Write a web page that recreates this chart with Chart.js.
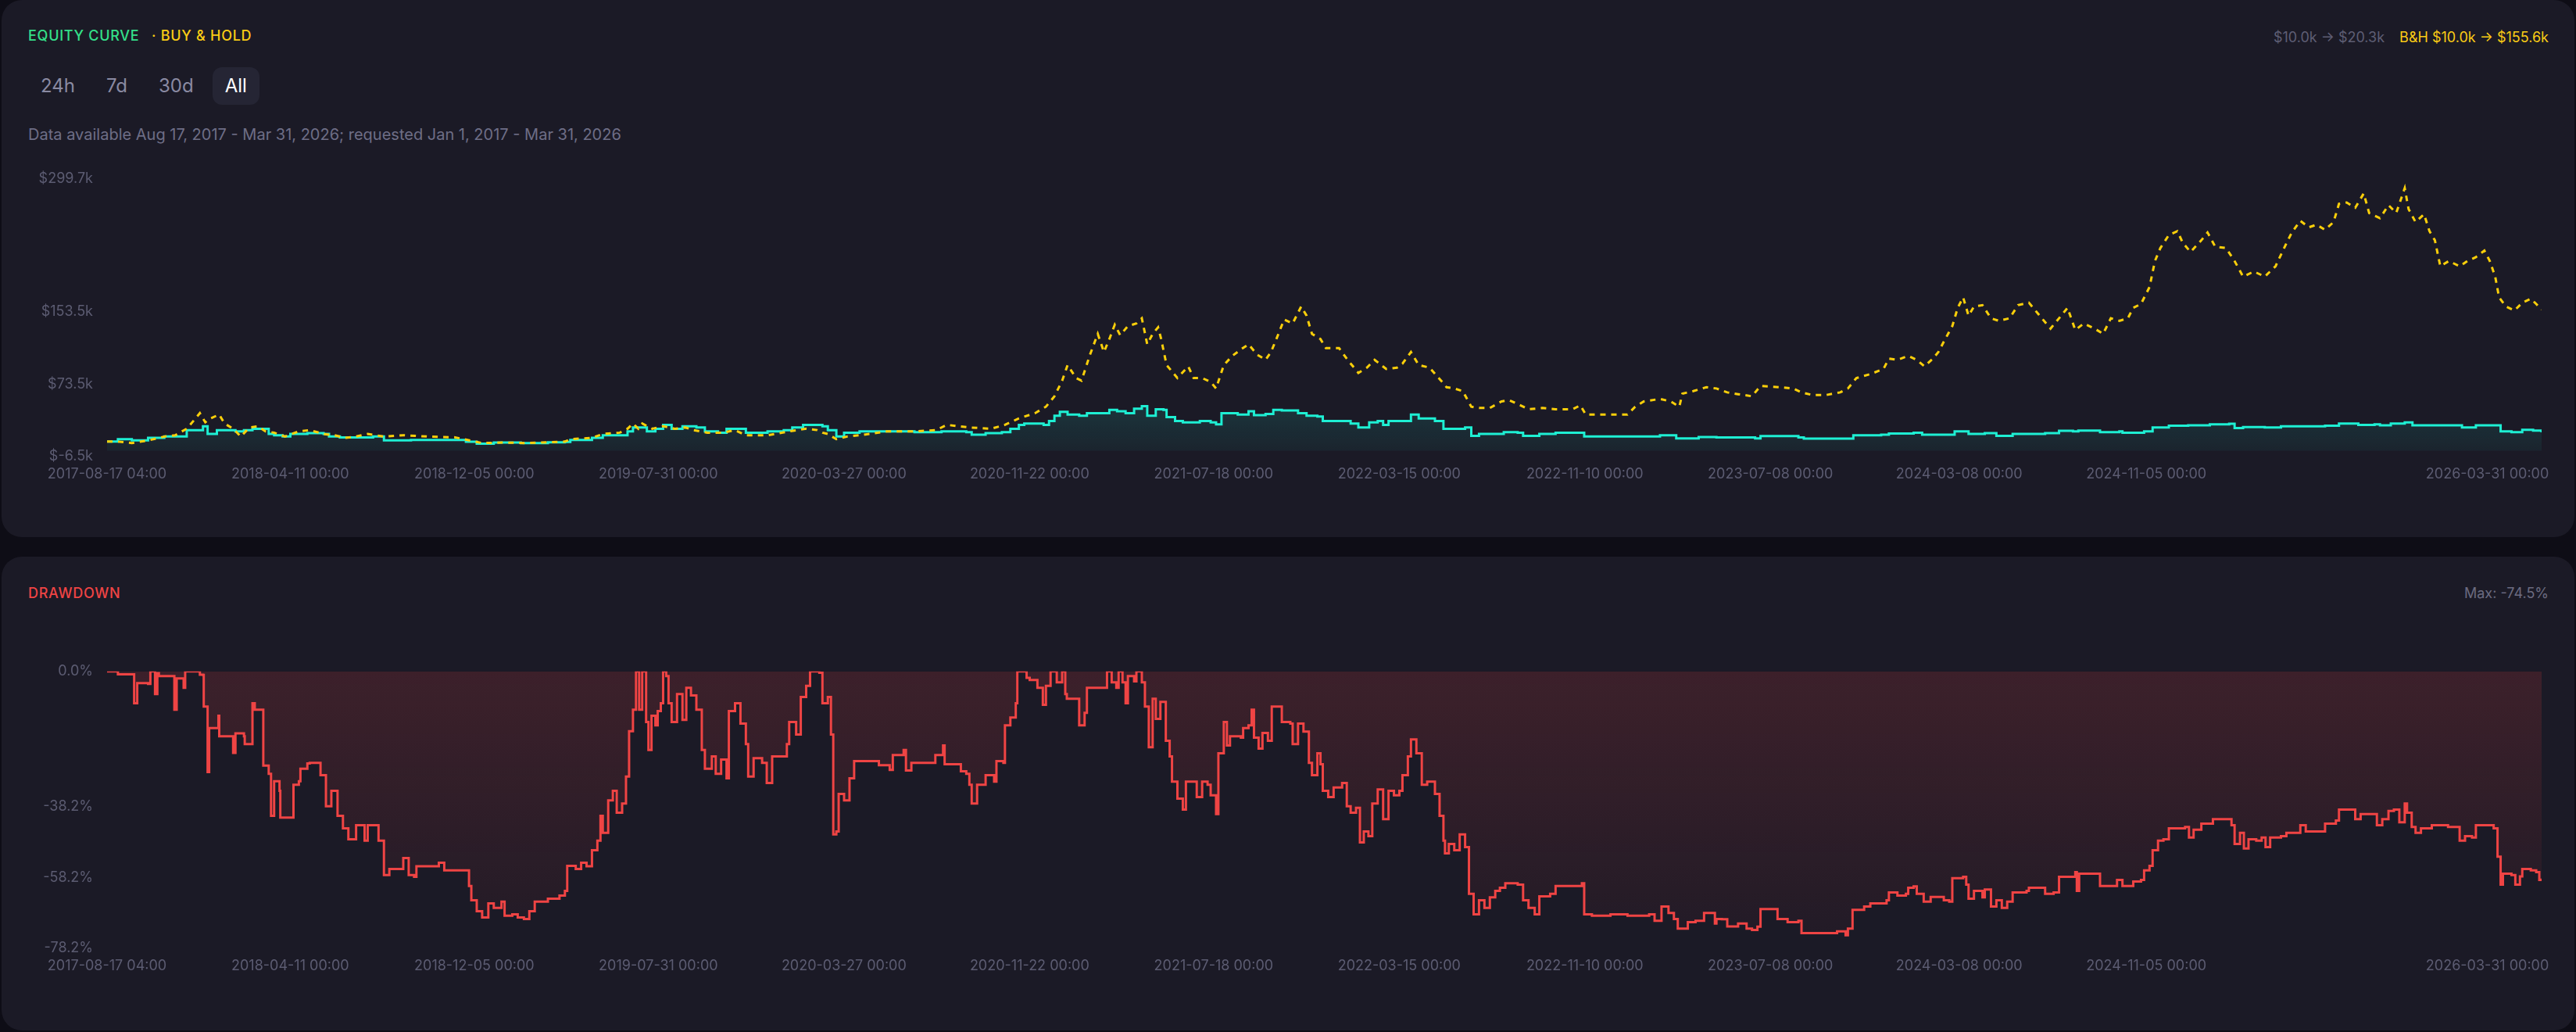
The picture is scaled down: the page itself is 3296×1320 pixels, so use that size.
<!DOCTYPE html>
<html lang="en">
<head>
<meta charset="utf-8">
<title>Equity curve</title>
<script src="https://cdn.jsdelivr.net/npm/chart.js@4.4.1/dist/chart.umd.min.js"></script>
<style>
  html, body { margin: 0; padding: 0; }
  body {
    width: 3296px; height: 1320px; position: relative; overflow: hidden;
    background: #0e0d16; font-family: Inter, "Noto Sans", sans-serif;
  }
  .card { position: absolute; left: 2px; width: 3292px; background: #1b1a26; border-radius: 26px; }
  .txt { position: absolute; font-size: 18px; line-height: 22px; white-space: nowrap; }
  .caps { font-weight: 500; letter-spacing: 0.04em; }
  .btns { position: absolute; left: 36px; top: 86px; display: flex; gap: 8px; }
  .btn { height: 48px; line-height: 48px; padding: 0 16px; font-size: 24px; color: #8a8aa2; border-radius: 12px; }
  .btn.on { background: #252534; color: #ffffff; }
  canvas { position: absolute; left: 20px; }
</style>
</head>
<body>
<div class="card" style="top:0; height:687px;"></div>
<div class="card" style="top:712px; height:606px;"></div>

<div class="txt caps" style="left:36px; top:35px;">
  <span style="color:#34e08a;">EQUITY CURVE</span>
  <span style="color:#facc15; margin-left:10px;">· BUY &amp; HOLD</span>
</div>
<div class="txt" style="right:35px; top:37px;">
  <span style="color:#5e5e74;">$10.0k → $20.3k</span>
  <span style="color:#facc15; margin-left:14px;">B&amp;H $10.0k → $155.6k</span>
</div>
<div class="btns">
  <div class="btn">24h</div><div class="btn">7d</div><div class="btn">30d</div><div class="btn on">All</div>
</div>
<div class="txt" style="left:36px; top:161px; font-size:20px; color:#6e6e86;">
  Data available Aug 17, 2017 - Mar 31, 2026; requested Jan 1, 2017 - Mar 31, 2026
</div>
<canvas id="equity" width="3260" height="424" style="top:200px;"></canvas>

<div class="txt caps" style="left:36px; top:748px; color:#ef4444;">DRAWDOWN</div>
<div class="txt" style="right:35px; top:748px; color:#6b6b80;">Max: -74.5%</div>
<canvas id="drawdown" width="3260" height="423" style="top:830px;"></canvas>

<script>
// days since 2017-08-17 04:00 for every point, values in $k and %
const eqDays = [
  0, 14, 32, 53, 74, 88, 103, 120, 124, 130,
  142, 166, 177, 188, 198, 209, 216, 227, 237, 259,
  280, 287, 301, 322, 344, 358, 393, 429, 457, 464,
  478, 500, 535, 570, 592, 599, 627, 641, 663, 673,
  680, 691, 698, 709, 719, 730, 744, 762, 773, 790,
  801, 812, 826, 854, 875, 886, 900, 918, 925, 932,
  943, 953, 973, 1016, 1044, 1079, 1111, 1118, 1136, 1157,
  1168, 1179, 1186, 1211, 1218, 1225, 1232, 1242, 1257, 1267,
  1292, 1296, 1306, 1317, 1328, 1338, 1345, 1356, 1366, 1370,
  1381, 1391, 1413, 1427, 1434, 1441, 1462, 1476, 1483, 1498,
  1508, 1519, 1540, 1551, 1565, 1572, 1597, 1608, 1618, 1632,
  1643, 1650, 1657, 1671, 1686, 1696, 1717, 1728, 1756, 1764,
  1774, 1795, 1806, 1824, 1831, 1852, 1873, 1905, 1910, 1994,
  2008, 2029, 2058, 2081, 2131, 2138, 2187, 2194, 2248, 2258,
  2294, 2304, 2336, 2347, 2382, 2389, 2400, 2407, 2428, 2443,
  2464, 2506, 2524, 2542, 2549, 2577, 2602, 2606, 2634, 2645,
  2666, 2691, 2719, 2744, 2751, 2762, 2790, 2811, 2868, 2886,
  2903, 2911, 2932, 2939, 2953, 2971, 2981, 3038, 3045, 3063,
  3084, 3095, 3109, 3123, 3137, 3148
];
const eqValues = [
  10.0, 12.7, 11.3, 14.1, 15.6, 15.6, 22.7, 22.7, 27.0, 18.4,
  22.7, 21.3, 22.7, 24.2, 24.2, 18.4, 17.0, 15.6, 18.4, 19.3,
  18.4, 15.6, 14.7, 14.7, 15.6, 11.3, 11.8, 11.8, 11.8, 9.8,
  7.8, 9.0, 8.4, 9.3, 9.6, 11.8, 14.1, 17.0, 17.0, 21.3,
  25.6, 25.6, 21.3, 24.2, 28.5, 24.2, 27.0, 25.6, 21.3, 19.9,
  24.2, 24.2, 19.9, 21.3, 22.7, 25.6, 28.5, 28.5, 27.0, 22.7,
  15.6, 19.9, 21.3, 21.3, 20.5, 21.3, 20.5, 17.6, 19.3, 20.5,
  24.2, 28.5, 29.9, 28.5, 32.8, 38.5, 42.8, 39.9, 38.5, 41.4,
  41.4, 45.1, 43.4, 41.4, 46.3, 49.1, 38.5, 45.7, 45.1, 37.1,
  32.8, 31.3, 32.8, 31.3, 29.1, 41.4, 39.9, 43.4, 39.1, 40.5,
  45.1, 44.3, 41.4, 38.5, 37.7, 32.8, 32.8, 29.9, 25.6, 31.3,
  32.8, 28.5, 32.8, 32.8, 39.9, 35.6, 32.8, 24.2, 25.6, 16.4,
  18.4, 18.4, 20.5, 19.9, 16.4, 18.4, 19.9, 19.9, 15.6, 15.6,
  17.0, 13.6, 15.0, 14.7, 13.6, 16.1, 14.7, 13.3, 13.3, 17.0,
  17.6, 19.0, 19.9, 17.6, 17.6, 21.3, 21.3, 18.4, 19.3, 16.4,
  18.4, 19.3, 21.9, 21.3, 22.2, 20.5, 21.3, 19.9, 21.3, 25.6,
  27.6, 27.9, 29.1, 29.6, 25.0, 26.1, 25.6, 27.0, 27.6, 29.9,
  29.9, 28.5, 29.1, 27.9, 29.9, 31.3, 27.9, 27.9, 25.6, 27.9,
  27.9, 21.3, 20.5, 23.0, 22.2, 20.3
];

const bhDays = [
  0, 14, 32, 53, 74, 88, 103, 113, 120, 127,
  134, 145, 152, 163, 173, 184, 195, 205, 216, 230,
  248, 262, 280, 294, 308, 322, 337, 358, 383, 414,
  450, 461, 485, 514, 542, 570, 592, 599, 627, 641,
  663, 673, 680, 687, 692, 705, 719, 734, 748, 758,
  776, 797, 812, 826, 854, 882, 904, 918, 925, 932,
  943, 957, 973, 1008, 1044, 1072, 1086, 1115, 1143, 1161,
  1179, 1200, 1214, 1225, 1235, 1242, 1253, 1260, 1271, 1281,
  1289, 1296, 1303, 1310, 1320, 1331, 1338, 1345, 1352, 1359,
  1363, 1370, 1377, 1384, 1398, 1405, 1416, 1427, 1434, 1444,
  1455, 1466, 1476, 1487, 1498, 1505, 1512, 1522, 1533, 1544,
  1551, 1558, 1569, 1576, 1593, 1604, 1618, 1629, 1639, 1654,
  1668, 1675, 1686, 1696, 1710, 1725, 1732, 1742, 1753, 1764,
  1774, 1788, 1803, 1813, 1824, 1838, 1856, 1873, 1895, 1905,
  1912, 1937, 1966, 1976, 1987, 2008, 2022, 2033, 2037, 2051,
  2068, 2081, 2095, 2109, 2127, 2138, 2163, 2180, 2191, 2205,
  2223, 2241, 2251, 2262, 2280, 2297, 2304, 2315, 2329, 2340,
  2350, 2361, 2368, 2375, 2386, 2393, 2400, 2407, 2414, 2425,
  2436, 2446, 2460, 2471, 2485, 2499, 2513, 2524, 2535, 2545,
  2556, 2570, 2581, 2591, 2602, 2613, 2620, 2630, 2641, 2648,
  2655, 2666, 2677, 2684, 2694, 2708, 2716, 2726, 2740, 2751,
  2762, 2776, 2790, 2804, 2815, 2825, 2836, 2847, 2857, 2868,
  2879, 2886, 2896, 2907, 2918, 2925, 2939, 2950, 2960, 2971,
  2976, 2985, 2996, 3003, 3010, 3017, 3028, 3042, 3052, 3063,
  3074, 3081, 3088, 3093, 3102, 3113, 3123, 3134, 3141, 3148
];
const bhValues = [
  10.0, 10.0, 8.4, 11.3, 15.6, 17.0, 24.2, 34.2, 41.4, 31.3,
  35.6, 39.9, 29.9, 24.2, 15.6, 25.6, 27.0, 21.3, 19.9, 15.6,
  21.3, 22.7, 18.4, 17.0, 14.1, 15.6, 18.4, 15.6, 17.0, 15.6,
  14.7, 12.7, 8.4, 9.0, 8.4, 9.3, 10.0, 12.7, 14.1, 18.4,
  19.9, 24.2, 29.9, 24.2, 29.9, 24.2, 27.0, 24.2, 25.6, 22.7,
  19.9, 19.9, 22.7, 17.0, 17.0, 21.3, 24.2, 22.7, 19.9, 18.4,
  12.7, 15.6, 17.0, 21.3, 21.3, 22.7, 28.5, 25.6, 24.2, 28.5,
  35.6, 41.4, 48.5, 60.0, 77.2, 94.4, 80.1, 77.2, 105.9, 128.8,
  108.8, 123.1, 138.9, 127.4, 137.4, 140.3, 146.0, 117.3, 128.8, 136.0,
  123.1, 94.4, 87.3, 80.1, 93.0, 80.1, 80.1, 75.8, 68.6, 94.4,
  104.5, 111.6, 117.3, 106.0, 100.2, 108.8, 123.1, 144.6, 140.3, 158.9,
  148.9, 128.8, 123.1, 113.1, 113.1, 100.2, 85.8, 91.6, 100.2, 90.1,
  91.6, 95.9, 108.8, 94.4, 91.6, 77.2, 70.0, 68.6, 65.7, 48.5,
  47.1, 47.1, 54.3, 55.7, 51.4, 45.7, 47.1, 45.7, 45.7, 50.0,
  39.9, 39.9, 39.9, 48.5, 54.3, 57.1, 54.3, 48.5, 62.9, 65.7,
  70.0, 68.6, 64.3, 62.3, 60.0, 71.5, 70.0, 68.6, 64.3, 61.4,
  61.4, 64.3, 68.6, 80.1, 84.4, 90.1, 101.6, 100.2, 104.5, 100.2,
  93.0, 101.6, 108.8, 120.2, 137.4, 157.5, 169.0, 148.9, 158.9, 160.4,
  146.0, 143.2, 146.0, 160.4, 163.2, 148.9, 134.6, 146.0, 157.5, 133.1,
  140.3, 134.6, 128.8, 146.0, 143.2, 146.0, 157.5, 161.8, 180.4, 209.1,
  223.4, 237.8, 242.1, 229.2, 219.1, 232.0, 240.6, 224.9, 223.4, 209.1,
  191.9, 197.6, 191.9, 203.4, 223.4, 240.6, 253.5, 246.3, 249.2, 243.5,
  252.1, 272.2, 273.6, 267.9, 283.7, 262.1, 256.4, 270.7, 262.1, 289.4,
  266.4, 252.1, 260.7, 242.1, 232.0, 203.4, 209.1, 203.4, 209.1, 213.4,
  220.6, 209.1, 191.9, 169.0, 158.9, 154.6, 163.2, 167.5, 161.8, 155.6
];

const ddDays = [
  0, 14, 35, 39, 53, 56, 62, 65, 67, 81,
  87, 90, 99, 101, 120, 124, 125, 130, 132, 144,
  145, 159, 163, 166, 177, 178, 186, 188, 191, 200,
  202, 209, 212, 216, 223, 224, 237, 241, 248, 250,
  259, 262, 273, 276, 283, 290, 298, 305, 312, 322,
  333, 337, 347, 351, 358, 365, 383, 390, 397, 400,
  422, 429, 436, 464, 468, 471, 478, 485, 493, 500,
  510, 514, 524, 531, 539, 546, 553, 563, 570, 585,
  592, 595, 606, 613, 620, 627, 634, 638, 641, 648,
  654, 659, 666, 671, 675, 680, 684, 688, 692, 697,
  700, 704, 709, 712, 716, 719, 723, 726, 730, 737,
  744, 749, 755, 762, 769, 773, 782, 787, 794, 801,
  804, 812, 819, 826, 829, 836, 847, 853, 860, 875,
  879, 882, 891, 897, 904, 909, 921, 925, 932, 936,
  939, 943, 946, 953, 960, 966, 973, 994, 998, 1012,
  1016, 1026, 1030, 1033, 1040, 1065, 1071, 1079, 1081, 1083,
  1101, 1104, 1111, 1115, 1118, 1125, 1136, 1147, 1150, 1159,
  1161, 1168, 1175, 1177, 1189, 1193, 1203, 1210, 1214, 1220,
  1228, 1235, 1239, 1241, 1253, 1257, 1264, 1267, 1292, 1293,
  1299, 1305, 1308, 1313, 1317, 1320, 1328, 1331, 1338, 1342,
  1347, 1352, 1356, 1362, 1369, 1374, 1377, 1384, 1391, 1395,
  1405, 1409, 1416, 1423, 1427, 1434, 1437, 1444, 1448, 1452,
  1466, 1469, 1476, 1480, 1483, 1489, 1494, 1501, 1506, 1515,
  1519, 1530, 1533, 1540, 1547, 1554, 1558, 1565, 1569, 1572,
  1579, 1586, 1597, 1603, 1608, 1615, 1620, 1625, 1631, 1636,
  1643, 1650, 1657, 1664, 1671, 1675, 1682, 1686, 1693, 1700,
  1707, 1717, 1723, 1728, 1730, 1735, 1742, 1749, 1756, 1761,
  1767, 1774, 1781, 1788, 1795, 1801, 1808, 1824, 1831, 1838,
  1846, 1852, 1866, 1873, 1895, 1907, 1910, 1920, 1944, 1966,
  1994, 2001, 2010, 2019, 2026, 2031, 2044, 2054, 2065, 2079,
  2081, 2088, 2095, 2109, 2120, 2127, 2134, 2138, 2158, 2160,
  2173, 2187, 2191, 2223, 2237, 2248, 2251, 2257, 2272, 2280,
  2294, 2301, 2304, 2315, 2326, 2329, 2336, 2340, 2349, 2358,
  2375, 2382, 2386, 2400, 2404, 2407, 2414, 2425, 2428, 2436,
  2443, 2450, 2457, 2464, 2482, 2485, 2499, 2506, 2517, 2524,
  2545, 2547, 2550, 2574, 2577, 2599, 2606, 2620, 2630, 2634,
  2641, 2645, 2652, 2659, 2666, 2687, 2692, 2698, 2708, 2723,
  2740, 2747, 2751, 2758, 2763, 2769, 2779, 2786, 2791, 2797,
  2811, 2818, 2836, 2843, 2864, 2868, 2882, 2886, 2903, 2907,
  2914, 2928, 2935, 2942, 2950, 2957, 2964, 2971, 2974, 2980,
  2985, 2992, 3006, 3027, 3042, 3049, 3058, 3063, 3086, 3091,
  3095, 3098, 3109, 3114, 3120, 3123, 3134, 3141, 3145, 3148
];
const ddValues = [
  0, -0.8, -9.0, -3.3, -3.5, 0, -6.4, -0.5, -1.3, -1.3,
  -10.8, -2.0, -4.6, 0, -0.9, -1.0, -9.9, -28.4, -16.0, -12.5,
  -18.3, -18.3, -23.0, -17.5, -18.3, -20.5, -20.5, -9.0, -10.8, -10.8,
  -26.6, -28.9, -40.8, -31.0, -33.7, -41.3, -41.3, -32.0, -31.0, -27.5,
  -26.0, -25.8, -25.8, -29.3, -38.1, -33.7, -40.8, -44.3, -47.4, -43.4,
  -47.8, -43.4, -43.4, -47.8, -57.5, -55.8, -52.7, -57.5, -58.0, -55.0,
  -55.0, -54.0, -56.2, -56.2, -60.6, -64.6, -67.7, -69.5, -65.5, -66.8,
  -65.0, -69.0, -68.6, -69.5, -69.9, -67.7, -65.0, -65.0, -64.2, -63.3,
  -62.0, -54.9, -55.8, -54.0, -55.0, -50.5, -47.8, -40.8, -45.6, -36.4,
  -33.7, -39.9, -37.3, -29.7, -16.9, -10.8, 0, -10.8, 0, -14.3,
  -22.2, -12.5, -15.2, -11.2, -9.0, 0, -1.3, -9.0, -14.3, -6.4,
  -13.7, -4.6, -6.8, -10.8, -22.2, -27.5, -24.0, -28.9, -24.9, -30.2,
  -11.2, -9.0, -14.7, -20.5, -29.7, -24.5, -25.8, -31.5, -24.0, -24.0,
  -20.5, -14.3, -17.8, -7.2, -4.1, 0, -0.4, -9.0, -7.2, -17.8,
  -46.0, -45.2, -34.6, -36.4, -30.2, -25.3, -25.3, -25.3, -26.5, -27.8,
  -23.6, -23.6, -22.2, -28.0, -25.8, -25.8, -23.6, -23.6, -20.9, -26.2,
  -26.2, -28.2, -28.9, -32.0, -37.3, -32.0, -29.3, -31.1, -25.3, -25.8,
  -15.2, -13.0, -9.0, 0, -1.8, -2.4, -4.6, -9.4, -4.1, 0,
  -3.1, 0, -6.4, -7.7, -7.7, -15.2, -11.7, -4.6, -4.6, 0,
  -3.1, -4.6, 0, -3.1, -9.0, -1.3, -2.8, 0, -3.1, -9.9,
  -21.4, -7.7, -13.4, -8.6, -19.6, -24.0, -31.1, -35.9, -39.0, -31.1,
  -31.1, -35.5, -31.1, -32.0, -35.0, -40.3, -23.1, -14.3, -20.9, -18.3,
  -18.7, -16.0, -15.2, -10.8, -18.7, -21.8, -17.4, -19.6, -9.9, -9.9,
  -14.3, -14.7, -20.5, -14.7, -17.0, -25.8, -29.3, -23.1, -26.2, -33.7,
  -35.5, -32.8, -31.5, -38.1, -39.9, -38.5, -48.3, -45.2, -46.5, -37.3,
  -33.3, -41.7, -33.7, -35.0, -33.7, -29.3, -24.0, -19.2, -23.1, -32.0,
  -31.1, -34.6, -40.8, -47.8, -51.4, -48.7, -50.5, -46.0, -49.6, -62.8,
  -68.6, -64.6, -66.8, -63.8, -62.0, -61.1, -59.8, -60.2, -64.6, -66.8,
  -68.6, -63.5, -62.8, -60.6, -60.6, -59.8, -68.6, -69.0, -68.6, -69.0,
  -68.6, -70.4, -66.4, -68.2, -69.9, -72.6, -70.8, -70.4, -68.2, -71.2,
  -69.9, -70.0, -72.0, -71.2, -72.6, -73.0, -72.1, -67.1, -67.1, -69.9,
  -70.8, -70.4, -73.9, -73.9, -73.4, -74.5, -72.6, -67.3, -66.4, -65.5,
  -65.5, -64.6, -62.4, -63.3, -62.8, -61.1, -60.7, -62.8, -65.0, -63.7,
  -64.6, -65.0, -58.4, -58.0, -60.2, -64.2, -62.0, -63.8, -61.6, -66.4,
  -64.6, -66.8, -65.0, -62.4, -62.0, -61.1, -61.1, -62.8, -62.4, -58.0,
  -56.7, -62.0, -57.1, -57.1, -60.6, -58.9, -60.6, -59.3, -58.9, -56.2,
  -54.9, -50.5, -47.8, -47.4, -44.3, -43.9, -46.9, -44.7, -43.0, -41.7,
  -41.7, -43.4, -48.7, -45.6, -50.0, -47.4, -47.8, -46.9, -49.6, -46.9,
  -46.5, -45.6, -43.4, -45.2, -45.2, -43.0, -42.1, -39.0, -39.0, -41.7,
  -40.3, -40.3, -43.4, -41.7, -39.4, -39.0, -42.6, -37.3, -39.9, -43.9,
  -45.6, -44.3, -43.4, -43.9, -47.8, -46.5, -46.9, -43.4, -44.3, -52.3,
  -60.2, -57.1, -57.5, -60.2, -57.9, -55.8, -56.2, -56.7, -58.9, -58.5
];

const xTickLabels = [
  '2017-08-17 04:00', '2018-04-11 00:00', '2018-12-05 00:00', '2019-07-31 00:00',
  '2020-03-27 00:00', '2020-11-22 00:00', '2021-07-18 00:00', '2022-03-15 00:00',
  '2022-11-10 00:00', '2023-07-08 00:00', '2024-03-08 00:00', '2024-11-05 00:00',
  '2026-03-31 00:00'
];
const eqTicks = [-6.5, 73.5, 153.5, 299.7];
const ddTicks = [0, -38.2, -58.2, -78.2];

const startMs = Date.parse('2017-08-17T04:00:00Z');
const dayMs = 86400000;
const toDay = s => (Date.parse(s.replace(' ', 'T') + ':00Z') - startMs) / dayMs;
const endDay = 3148;
// the last label sits left of the axis end so it stays inside the card
const xTickDays = xTickLabels.map((s, i) => i === xTickLabels.length - 1 ? toDay(s) - 70 : toDay(s));

const toXY = (days, vals) => days.map((d, i) => ({ x: d, y: vals[i] }));

Chart.defaults.font.family = 'Inter';
const tickColor = '#5c5c72';
const tickFont = { family: 'Inter', size: 18 };

function xScale() {
  return {
    type: 'linear', min: 0, max: endDay,
    grid: { display: false, drawTicks: false }, border: { display: false },
    afterBuildTicks: s => { s.ticks = xTickDays.map(v => ({ value: v })); },
    afterFit: s => { s.height = 40; },
    ticks: {
      autoSkip: false, maxRotation: 0, padding: 12, color: tickColor, font: tickFont,
      callback: (v, i) => xTickLabels[i]
    }
  };
}

function yScale(min, max, ticks, fmt) {
  return {
    min: min, max: max,
    grid: { display: false, drawTicks: false }, border: { display: false },
    afterBuildTicks: s => { s.ticks = ticks.map(v => ({ value: v })); },
    afterFit: s => { s.width = 117; },
    ticks: { padding: 18, color: tickColor, font: tickFont, callback: fmt }
  };
}

const baseOptions = {
  responsive: false, animation: false, devicePixelRatio: 1,
  layout: { padding: { top: 28, right: 28, bottom: 0, left: 0 } },
  plugins: { legend: { display: false }, tooltip: { enabled: false } },
  elements: { point: { radius: 0 }, line: { tension: 0 } }
};

function cyanFill(context) {
  const { chart } = context;
  const { ctx, chartArea, scales } = chart;
  if (!chartArea) return 'rgba(0,0,0,0)';
  const g = ctx.createLinearGradient(0, scales.y.getPixelForValue(50), 0, chartArea.bottom);
  g.addColorStop(0, 'rgba(30, 240, 212, 0.13)');
  g.addColorStop(1, 'rgba(30, 240, 212, 0.04)');
  return g;
}

function redFill(context) {
  const { chart } = context;
  const { ctx, chartArea } = chart;
  if (!chartArea) return 'rgba(0,0,0,0)';
  const g = ctx.createLinearGradient(0, chartArea.top, 0, chartArea.bottom);
  g.addColorStop(0, 'rgba(239, 68, 68, 0.16)');
  g.addColorStop(1, 'rgba(239, 68, 68, 0.03)');
  return g;
}

new Chart(document.getElementById('equity'), {
  type: 'line',
  data: {
    datasets: [
      {
        label: 'Buy & Hold',
        data: toXY(bhDays, bhValues),
        borderColor: '#fbcf0a', borderWidth: 3, borderDash: [7, 7],
        fill: false
      },
      {
        label: 'Equity',
        data: toXY(eqDays, eqValues),
        borderColor: '#1eefd3', borderWidth: 3, stepped: true,
        fill: 'origin', backgroundColor: cyanFill
      }
    ]
  },
  options: {
    ...baseOptions,
    scales: {
      x: xScale(),
      y: yScale(-6.5, 299.7, eqTicks, v => '$' + Number(v).toFixed(1) + 'k')
    }
  }
});

new Chart(document.getElementById('drawdown'), {
  type: 'line',
  data: {
    datasets: [{
      label: 'Drawdown',
      data: toXY(ddDays, ddValues),
      borderColor: '#ef4444', borderWidth: 3, stepped: true,
      fill: 'origin', backgroundColor: redFill
    }]
  },
  options: {
    ...baseOptions,
    scales: {
      x: xScale(),
      y: yScale(-78.2, 0, ddTicks, v => Number(v).toFixed(1) + '%')
    }
  }
});
</script>
</body>
</html>
